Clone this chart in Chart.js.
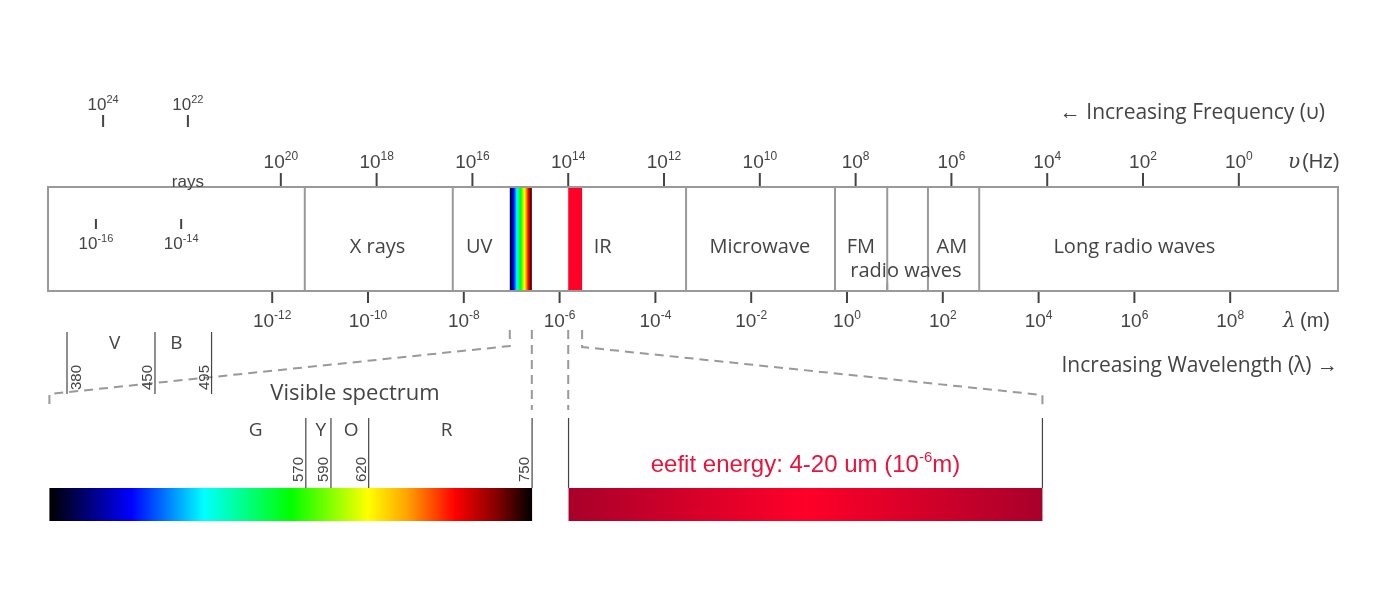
<!DOCTYPE html>
<html>
<head>
<meta charset="utf-8">
<script src="https://cdn.jsdelivr.net/npm/chart.js@4"></script>
<style>
  html, body { margin: 0; padding: 0; background: #fff; }
  canvas { display: block; }
</style>
</head>
<body>
<canvas id="spectrum" width="1400" height="601"></canvas>
<script>
// wavelength axis is log10(lambda in m)
const lambdaTicks = [-12, -10, -8, -6, -4, -2, 0, 2, 4, 6, 8];
const freqTicks = [20, 18, 16, 14, 12, 10, 8, 6, 4, 2, 0];
const freqOffset = 8.18;               // log10(lambda) = freqOffset - log10(freq)
const extraFreq = [{ exp: 24, at: -15.53 }, { exp: 22, at: -13.76 }];
const extraLambda = [{ exp: -16, at: -15.68 }, { exp: -14, at: -13.9 }];
const boxRange = [-16.68, 10.25];
const bandEdges = [-11.32, -8.23, -3.36, -0.25, 0.84, 1.69, 2.76];
const bandLabels = [
  { text: "X rays", at: -9.8, row: 0 },
  { text: "UV", at: -7.68, row: 0 },
  { text: "IR", at: -5.1, row: 0 },
  { text: "Microwave", at: -1.82, row: 0 },
  { text: "FM", at: 0.29, row: 0 },
  { text: "radio waves", at: 1.23, row: 1 },
  { text: "AM", at: 2.19, row: 0 },
  { text: "Long radio waves", at: 6.0, row: 0 }
];
const visibleStrip = [-7.04, -6.58];
const irStrip = [-5.82, -5.53];

// zoomed panels, in nm
const visibleRange = [366, 750];
const visibleMarks = [380, 450, 495];
const visibleMarks2 = [570, 590, 620, 750];
const colourNames = [
  { text: "V", nm: 418 }, { text: "B", nm: 467 }, { text: "G", nm: 530 },
  { text: "Y", nm: 582 }, { text: "O", nm: 606 }, { text: "R", nm: 682 }
];
const irRange = [779, 1156];
const visStops = [
  [0, "#000000"], [0.17, "#0000ff"], [0.32, "#00ffff"], [0.5, "#00ff00"],
  [0.66, "#ffff00"], [0.74, "#ffa500"], [0.84, "#ff0000"], [0.93, "#800000"], [1, "#000000"]
];
const irStops = [[0, "#a8002a"], [0.5, "#ff0028"], [1, "#a8002a"]];

const PXPERDEC = 47.9, ZERO = 847;
const nmSlope = 1.257, nmAt0 = 380 - 67 / 1.257;

const TXT = "#444";
const NUMFONT = "'Liberation Sans', Arial, sans-serif";
const LBLFONT = "'Open Sans', 'Noto Sans', sans-serif";

function pow(ctx, x, y, exp, size, align) {
  ctx.font = size + "px " + NUMFONT;
  const base = "10", sup = String(exp);
  const bw = ctx.measureText(base).width;
  ctx.font = Math.round(size * 0.62) + "px " + NUMFONT;
  const sw = ctx.measureText(sup).width;
  const w = bw + sw;
  const left = align === "left" ? x : x - w / 2;
  ctx.textAlign = "left";
  ctx.textBaseline = "alphabetic";
  ctx.font = size + "px " + NUMFONT;
  ctx.fillText(base, left, y);
  ctx.font = Math.round(size * 0.62) + "px " + NUMFONT;
  ctx.fillText(sup, left + bw, y - size * 0.42);
}

function grad(ctx, x0, x1, stops) {
  const g = ctx.createLinearGradient(x0, 0, x1, 0);
  stops.forEach(s => g.addColorStop(s[0], s[1]));
  return g;
}

const spectrumPlugin = {
  id: "spectrum",
  afterDraw(chart) {
    const ctx = chart.ctx;
    const X = v => chart.scales.x.getPixelForValue(v);
    const N = v => chart.scales.nm.getPixelForValue(v);
    const Y = v => chart.scales.y.getPixelForValue(v);
    const top = Y(187), bot = Y(291);
    ctx.save();

    // strips
    const vs0 = X(visibleStrip[0]), vs1 = X(visibleStrip[1]);
    ctx.fillStyle = grad(ctx, vs0, vs1, visStops);
    ctx.fillRect(vs0, top, vs1 - vs0, bot - top);
    ctx.fillStyle = "#ff0028";
    ctx.fillRect(X(irStrip[0]), top, X(irStrip[1]) - X(irStrip[0]), bot - top);

    // main box
    ctx.strokeStyle = "#999";
    ctx.lineWidth = 2;
    ctx.strokeRect(X(boxRange[0]), top, X(boxRange[1]) - X(boxRange[0]), bot - top);
    bandEdges.forEach(e => {
      ctx.beginPath(); ctx.moveTo(X(e), top); ctx.lineTo(X(e), bot); ctx.stroke();
    });
    // small FM/AM separators
    ctx.beginPath(); ctx.moveTo(X(bandEdges[4]), bot); ctx.lineTo(X(bandEdges[4]), bot - 8); ctx.stroke();

    ctx.fillStyle = TXT;
    ctx.textAlign = "center";
    ctx.textBaseline = "alphabetic";
    ctx.font = "20px " + LBLFONT;
    bandLabels.forEach(b => {
      ctx.fillText(b.text, X(b.at), Y(b.row ? 277 : 253));
    });
    ctx.font = "17px " + NUMFONT;
    ctx.fillText("rays", X(-13.76), Y(187));

    // ticks
    ctx.strokeStyle = "#444";
    ctx.lineWidth = 2;
    freqTicks.forEach(f => {
      const x = X(freqOffset - f);
      ctx.beginPath(); ctx.moveTo(x, Y(173)); ctx.lineTo(x, Y(186)); ctx.stroke();
      pow(ctx, x, Y(168), f, 19);
    });
    lambdaTicks.forEach(l => {
      const x = X(l);
      ctx.beginPath(); ctx.moveTo(x, Y(292)); ctx.lineTo(x, Y(303)); ctx.stroke();
      pow(ctx, x, Y(327), l, 19);
    });
    extraFreq.forEach(f => {
      const x = X(f.at);
      ctx.beginPath(); ctx.moveTo(x, Y(115)); ctx.lineTo(x, Y(127)); ctx.stroke();
      pow(ctx, x, Y(110), f.exp, 17);
    });
    extraLambda.forEach(l => {
      const x = X(l.at);
      ctx.beginPath(); ctx.moveTo(x, Y(219)); ctx.lineTo(x, Y(229)); ctx.stroke();
      pow(ctx, x, Y(249), l.exp, 17);
    });

    // axis captions
    ctx.fillStyle = TXT;
    ctx.font = "21px " + LBLFONT;
    ctx.textAlign = "right";
    ctx.fillText("\u2190 Increasing Frequency (\u03c5)", 1325, Y(119));
    ctx.fillText("Increasing Wavelength (\u03bb) \u2192", 1338, Y(372));
    ctx.font = "italic 20px 'DejaVu Serif', serif";
    ctx.textAlign = "left";
    ctx.fillText("\u03c5", 1288, Y(168));
    ctx.fillText("\u03bb", 1283, Y(327));
    ctx.font = "20px " + NUMFONT;
    ctx.fillText("(Hz)", 1302, Y(168));
    ctx.fillText("(m)", 1300, Y(327));

    // dashed zoom guides
    ctx.strokeStyle = "#999";
    ctx.lineWidth = 2;
    ctx.setLineDash([9, 6]);
    const visL = N(visibleRange[0]), visR = N(visibleRange[1]);
    const irL = N(irRange[0]), irR = N(irRange[1]);
    ctx.beginPath();
    ctx.moveTo(vs0, Y(330)); ctx.lineTo(vs0, Y(346)); ctx.lineTo(visL, Y(394)); ctx.lineTo(visL, Y(410));
    ctx.moveTo(vs1, Y(330)); ctx.lineTo(vs1, Y(410));
    ctx.moveTo(X(irStrip[0]), Y(330)); ctx.lineTo(X(irStrip[0]), Y(410));
    ctx.moveTo(X(irStrip[1]), Y(330)); ctx.lineTo(X(irStrip[1]), Y(347)); ctx.lineTo(irR, Y(395)); ctx.lineTo(irR, Y(410));
    ctx.stroke();
    ctx.setLineDash([]);

    // zoomed bars
    ctx.fillStyle = grad(ctx, visL, visR, visStops);
    ctx.fillRect(visL, Y(488), visR - visL, Y(521) - Y(488));
    ctx.fillStyle = grad(ctx, irL, irR, irStops);
    ctx.fillRect(irL, Y(488), irR - irL, Y(521) - Y(488));

    ctx.strokeStyle = "#444";
    ctx.lineWidth = 1.2;
    ctx.fillStyle = TXT;
    const vertical = (x, yb, txt) => {
      ctx.save();
      ctx.translate(x, yb);
      ctx.rotate(-Math.PI / 2);
      ctx.font = "15px " + NUMFONT;
      ctx.textAlign = "left";
      ctx.textBaseline = "alphabetic";
      ctx.fillText(txt, 0, 0);
      ctx.restore();
    };
    visibleMarks.forEach(nm => {
      const x = N(nm);
      ctx.beginPath(); ctx.moveTo(x, Y(332)); ctx.lineTo(x, Y(394)); ctx.stroke();
      vertical(nm === 380 ? x + 14 : x - 3, Y(390), String(nm));
    });
    visibleMarks2.forEach(nm => {
      const x = N(nm);
      ctx.beginPath(); ctx.moveTo(x, Y(418)); ctx.lineTo(x, Y(488)); ctx.stroke();
      vertical(x - 3, Y(482), String(nm));
    });
    [irL, irR].forEach(x => {
      ctx.beginPath(); ctx.moveTo(x, Y(418)); ctx.lineTo(x, Y(488)); ctx.stroke();
    });

    ctx.font = "19px " + LBLFONT;
    ctx.textAlign = "center";
    colourNames.forEach(c => {
      ctx.fillText(c.text, N(c.nm), Y(c.nm < 480 ? 349 : 436));
    });
    ctx.font = "22px " + LBLFONT;
    ctx.fillText("Visible spectrum", 355, Y(400));

    // IR label
    ctx.fillStyle = "#e8143c";
    ctx.font = "24px " + NUMFONT;
    const a = "eefit energy: 4-20 um (10", b = "-6", c = "m)";
    const wa = ctx.measureText(a).width, wc = ctx.measureText(c).width;
    ctx.font = "15px " + NUMFONT;
    const wb = ctx.measureText(b).width;
    let lx = (irL + irR) / 2 - (wa + wb + wc) / 2;
    ctx.textAlign = "left";
    ctx.font = "24px " + NUMFONT;
    ctx.fillText(a, lx, Y(472));
    ctx.font = "15px " + NUMFONT;
    ctx.fillText(b, lx + wa, Y(462));
    ctx.font = "24px " + NUMFONT;
    ctx.fillText(c, lx + wa + wb, Y(472));

    ctx.restore();
  }
};

new Chart(document.getElementById("spectrum"), {
  type: "scatter",
  data: { datasets: [{ data: [], xAxisID: "x", yAxisID: "y" }] },
  options: {
    responsive: false,
    animation: false,
    devicePixelRatio: 1,
    layout: { padding: 0 },
    plugins: { legend: { display: false }, tooltip: { enabled: false } },
    scales: {
      x: { type: "linear", display: false, min: -ZERO / PXPERDEC, max: (1400 - ZERO) / PXPERDEC },
      nm: { type: "linear", axis: "x", display: false, min: nmAt0, max: nmAt0 + 1400 / nmSlope },
      y: { type: "linear", display: false, reverse: true, min: 0, max: 601 }
    }
  },
  plugins: [spectrumPlugin]
});
</script>
</body>
</html>
